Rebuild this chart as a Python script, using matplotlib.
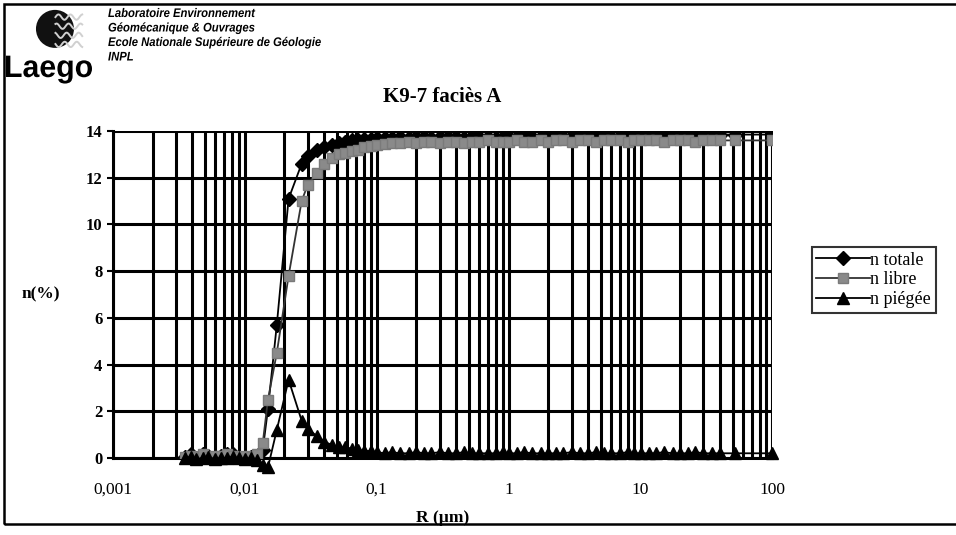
import numpy as np
import matplotlib
matplotlib.use('Agg')
import matplotlib.pyplot as plt
from matplotlib.patches import Ellipse, Rectangle, PathPatch
from matplotlib.lines import Line2D
from matplotlib.textpath import TextPath
from matplotlib.font_manager import FontProperties
from matplotlib.transforms import Affine2D
from matplotlib.ticker import FixedLocator, NullFormatter

# rayon R (um), grille commune aux trois series
R = [0.0035, 0.0039, 0.0043, 0.0048, 0.0053, 0.0059, 0.0066, 0.0073, 0.0081,
     0.0090, 0.0100, 0.0111, 0.0123, 0.0137, 0.0150, 0.0175, 0.0215, 0.0270,
     0.0300, 0.0350, 0.0400, 0.0460, 0.0520, 0.0580, 0.0650, 0.0720, 0.0800,
     0.0900, 0.100, 0.115, 0.130, 0.150, 0.175, 0.200, 0.230, 0.260, 0.300,
     0.350, 0.400, 0.460, 0.530, 0.600, 0.700, 0.800, 0.900, 1.00, 1.15, 1.30,
     1.50, 1.75, 2.00, 2.30, 2.60, 3.00, 3.50, 4.00, 4.60, 5.30, 6.00, 7.00,
     8.00, 9.00, 10.0, 11.5, 13.0, 15.0, 17.5, 20.0, 23.0, 26.0, 30.0, 35.0,
     40.0, 52.0, 100.0]

n_totale = [0.05, 0.15, 0.0, 0.15, 0.1, 0.05, 0.1, 0.15, 0.15, 0.05, 0.05, 0.05, 0.05,
            0.35, 2.1, 5.7, 11.1, 12.6, 12.95, 13.2, 13.3, 13.4, 13.5, 13.55,
            13.6, 13.6, 13.65, 13.65, 13.7, 13.7, 13.7, 13.75, 13.7, 13.75, 13.75,
            13.7, 13.75, 13.75, 13.75, 13.7, 13.75, 13.75, 13.75, 13.7, 13.75,
            13.75, 13.75, 13.8, 13.75, 13.75, 13.8, 13.75, 13.75, 13.8, 13.8,
            13.75, 13.8, 13.8, 13.75, 13.8, 13.8, 13.8, 13.8, 13.8, 13.75, 13.8,
            13.85, 13.85, 13.8, 13.85, 13.85, 13.8, 13.85, 13.85, 13.85]

n_libre = [0.05, 0.1, 0.05, 0.15, 0.05, 0.1, 0.1, 0.15, 0.1, 0.05, 0.1, 0.05, 0.15,
           0.65, 2.5, 4.5, 7.8, 11.0, 11.7, 12.2, 12.6, 12.85, 13.0, 13.05,
           13.15, 13.2, 13.3, 13.35, 13.4, 13.45, 13.5, 13.5, 13.55, 13.5, 13.55,
           13.55, 13.5, 13.55, 13.55, 13.5, 13.55, 13.55, 13.6, 13.55, 13.55,
           13.55, 13.6, 13.55, 13.55, 13.6, 13.55, 13.6, 13.6, 13.55, 13.6,
           13.6, 13.55, 13.6, 13.6, 13.6, 13.55, 13.6, 13.6, 13.6, 13.6, 13.55,
           13.6, 13.6, 13.6, 13.55, 13.6, 13.6, 13.6, 13.6, 13.6]

n_piegee = [0.0, 0.05, -0.05, 0.0, 0.05, -0.05, 0.0, 0.0, 0.05, 0.0, -0.05, 0.0, -0.1,
            -0.3, -0.4, 1.2, 3.35, 1.6, 1.25, 0.95, 0.7, 0.55, 0.45, 0.45, 0.4,
            0.35, 0.3, 0.3, 0.25, 0.2, 0.25, 0.2, 0.2, 0.25, 0.2, 0.2, 0.25, 0.2,
            0.2, 0.25, 0.2, 0.2, 0.2, 0.2, 0.25, 0.2, 0.2, 0.25, 0.2, 0.2, 0.2,
            0.2, 0.2, 0.25, 0.2, 0.2, 0.25, 0.2, 0.2, 0.2, 0.25, 0.2, 0.2, 0.2,
            0.2, 0.25, 0.2, 0.2, 0.2, 0.25, 0.2, 0.2, 0.2, 0.2, 0.2]

x_ticks = [0.001, 0.01, 0.1, 1, 10, 100]
x_labels = ['0,001', '0,01', '0,1', '1', '10', '100']
y_ticks = [0, 2, 4, 6, 8, 10, 12, 14]

plt.rcParams['font.family'] = ['Liberation Serif', 'DejaVu Serif']

fig = plt.figure(figsize=(9.56, 5.35), dpi=100)
ax = fig.add_axes([0.118, 0.144, 0.69, 0.611])

# cadre de la page
fig.patches.append(Rectangle((0.004, 0.02), 1.2, 0.972, transform=fig.transFigure,
                             fill=False, edgecolor='black', lw=1.8))

ax.plot(R, n_totale, color='black', lw=1.3, marker='D', ms=7,
        mfc='black', mec='black', label='n totale', zorder=3)
ax.plot(R, n_libre, color='#333333', lw=1.3, marker='s', ms=7,
        mfc='#8a8a8a', mec='#7a7a7a', label='n libre', zorder=4)
ax.plot(R, n_piegee, color='black', lw=1.3, marker='^', ms=8,
        mfc='black', mec='black', label='n piégée', zorder=5, clip_on=False)

ax.set_xscale('log')
ax.set_xlim(0.001, 100)
ax.set_ylim(0, 14)
ax.set_xticks(x_ticks)
ax.set_xticklabels(x_labels, fontsize=12.5)
ax.xaxis.set_minor_locator(FixedLocator(
    [m * 10.0 ** e for e in range(-3, 2) for m in range(2, 10)]))
ax.xaxis.set_minor_formatter(NullFormatter())
ax.set_yticks(y_ticks)
ax.set_yticklabels([str(v) for v in y_ticks], fontsize=12, fontweight='bold')
ax.tick_params(axis='x', which='both', length=0, pad=17)
ax.tick_params(axis='y', length=4, width=1.5, direction='out')

ax.grid(True, which='major', axis='both', color='black', lw=2.2)
ax.grid(True, which='minor', axis='x', color='black', lw=2.2)
ax.set_axisbelow(True)
for side in ['top', 'right']:
    ax.spines[side].set_visible(False)
ax.spines['left'].set_linewidth(2.2)
ax.spines['bottom'].set_linewidth(2.2)

ax.set_title('K9-7 faciès A', fontsize=15, fontweight='bold', pad=21)
ax.set_xlabel('R (µm)', fontsize=12.5, fontweight='bold', labelpad=9)
ax.set_ylabel('n(%)', fontsize=12.5, fontweight='bold', rotation=0, labelpad=32,
              va='center')

leg = fig.legend(loc='upper left', bbox_to_anchor=(0.849, 0.538), fontsize=13,
                 frameon=True, fancybox=False, edgecolor='black',
                 handlelength=3.0, handletextpad=0.0, borderpad=0.25,
                 labelspacing=0.15, borderaxespad=0)
leg.get_frame().set_linewidth(1.5)

# en-tete Laego
logo = Ellipse((0.0575, 0.946), 38 / 956, 38 / 535, transform=fig.transFigure,
               facecolor='#111111', edgecolor='none')
fig.patches.append(logo)
t = np.linspace(0, 1, 40)
for k, yy in enumerate([0.968, 0.951, 0.934, 0.917]):
    xs = 0.058 + 0.028 * t
    ys = yy + 0.005 * np.sin(t * 14 + k)
    fig.lines.append(Line2D(xs, ys, transform=fig.transFigure,
                            color='#d0d0d0', lw=1.4))

# texte "Laego" etroit (police comprimee horizontalement)
fp = FontProperties(family='Liberation Sans', weight='bold')
tp = TextPath((0, 0), 'Laego', size=31, prop=fp)
ext = tp.get_extents()
sx = 86 / ext.width
tr = Affine2D().scale(sx, 1.0).translate(6 - ext.x0 * sx, 535 - 77)
fig.patches.append(PathPatch(tr.transform_path(tp), facecolor='black',
                             edgecolor='none', transform=None))

header = ['Laboratoire Environnement', 'Géomécanique & Ouvrages',
          'Ecole Nationale Supérieure de Géologie', 'INPL']
fp_h = FontProperties(family='Liberation Sans', weight='bold', style='italic')
for i, line in enumerate(header):
    tp_h = TextPath((0, 0), line, size=12.5, prop=fp_h)
    tr_h = Affine2D().scale(0.9, 1.0).translate(108, 535 - 17 - i * 14.5)
    fig.patches.append(PathPatch(tr_h.transform_path(tp_h), facecolor='black',
                                 edgecolor='none', transform=None))

fig.savefig('out.png', dpi=100)
